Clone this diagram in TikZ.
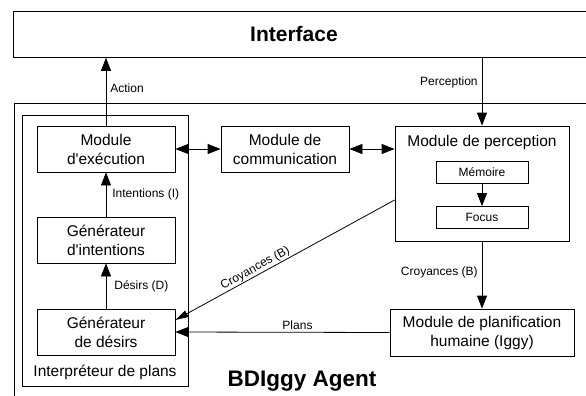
\documentclass[tikz,border=0pt]{standalone}
\usepackage{fontspec}
\setmainfont{Liberation Sans}
\usetikzlibrary{arrows.meta,positioning}

\tikzset{
  modbox/.style={draw, line width=0.8pt, minimum width=138pt, minimum height=46pt,
    inner sep=0pt, align=center, font=\fontsize{15.5}{19}\selectfont},
  smallbox/.style={draw, line width=0.8pt, minimum width=92pt, minimum height=22pt,
    inner sep=0pt, font=\fontsize{12}{14}\selectfont},
  flowlabel/.style={inner sep=1pt, font=\fontsize{12}{14}\selectfont},
  flow/.style={line width=0.8pt, -{Triangle[length=13pt,width=10pt]}},
  twoway/.style={line width=0.8pt, {Triangle[length=13pt,width=10pt]}-{Triangle[length=13pt,width=10pt]}},
}

\begin{document}
\begin{tikzpicture}[x=1pt, y=-1pt, line cap=butt, line join=miter]
    \clip (0,0) rectangle (586,396);
    \fill[white] (0,0) rectangle (586,396);

    % environment and agent frames
    \node[draw, line width=0.8pt, minimum width=590pt, minimum height=46pt, inner sep=0pt,
      anchor=north west] (iface) at (13,11) {};
    \node[font=\bfseries\fontsize{21}{24}\selectfont] (ifacetxt) at (294,34) {Interface};
    \draw[line width=0.8pt] (14,400) -- (14,103) -- (600,103);
    \draw[line width=0.8pt] (22,115) rectangle (188,386);
    \node[font=\fontsize{15.5}{19}\selectfont] (interp) at (105,372) {Interpréteur de plans};
    \node[font=\bfseries\fontsize{22.5}{26}\selectfont] (agent) at (302,381) {BDIggy Agent};

    % modules
    \node[modbox] (exec) at (106,149) {Module\\d\textquotesingle exécution};
    \node[modbox] (intent) at (106,240) {Générateur\\d\textquotesingle intentions};
    \node[modbox] (desirs) at (106,332) {Générateur\\de désirs};
    \node[modbox, minimum width=128pt] (comm) at (285,149) {Module de\\communication};
    \node[draw, line width=0.8pt, minimum width=174pt, minimum height=115pt, inner sep=0pt]
      (perc) at (482,183.5) {};
    \node[font=\fontsize{15.5}{19}\selectfont] (perctxt) at (482,142) {Module de perception};
    \node[smallbox] (mem) at (482,172) {Mémoire};
    \node[smallbox] (focus) at (482,217.5) {Focus};
    \node[modbox, minimum width=184pt, minimum height=47pt] (plan) at (482,332.5)
      {Module de planification\\humaine (Iggy)};

    % connectors
    \draw[flow] (exec.north) -- (exec.north |- iface.south)
      node[flowlabel, pos=0.55, right=3pt] {Action};
    \draw[flow] (perc.north |- iface.south) -- (perc.north)
      node[flowlabel, pos=0.37, left=3pt] {Perception};
    \draw[twoway] (exec.east) -- (comm.west);
    \draw[twoway] (comm.east) -- (perc.west |- comm.east);
    \draw[flow] (mem.south) -- (focus.north);
    \draw[flow] (intent.north) -- (exec.south)
      node[flowlabel, midway, right=5pt] {Intentions (I)};
    \draw[flow] (desirs.north) -- (intent.south)
      node[flowlabel, midway, right=7pt] {Désirs (D)};
    \draw[flow] (perc.south) -- (plan.north)
      node[flowlabel, pos=0.46, left=3pt] {Croyances (B)};
    \draw[flow] (plan.west) -- (desirs.east)
      node[flowlabel, pos=0.43, above=1pt] {Plans};
    \draw[line width=0.8pt, -{Triangle[length=13pt,width=7pt]}]
      ([yshift=-16.5pt]perc.west) -- ([yshift=12pt]desirs.east)
      node[flowlabel, pos=0.62, sloped, above=0pt] {Croyances (B)};
\end{tikzpicture}
\end{document}
